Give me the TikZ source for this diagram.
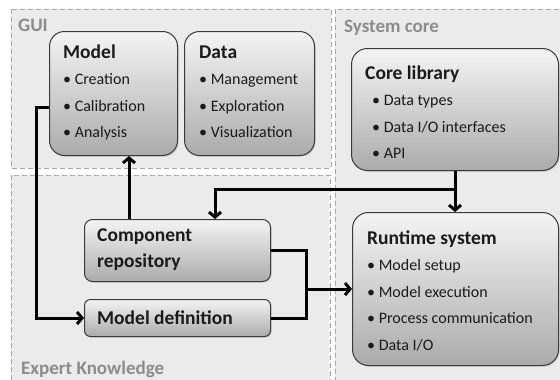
\documentclass[tikz,border=0pt]{standalone}
\usepackage{fontspec}
\setmainfont{Carlito}
\usetikzlibrary{arrows.meta,shadows,calc}

\definecolor{regionfill}{HTML}{EBEBEB}
\definecolor{regionline}{HTML}{A8A8A8}
\definecolor{labelgray}{HTML}{8C8C8C}
\definecolor{boxtop}{HTML}{F4F4F4}
\definecolor{boxbottom}{HTML}{ABABAB}
\definecolor{boxline}{HTML}{3A3A3A}
\definecolor{ink}{HTML}{1A1A1A}

\newcommand{\boxtitle}[1]{{\fontsize{19.5}{26.5}\selectfont\bfseries\strut #1}}
\newcommand{\itemline}[1]{\strut\textbullet\ #1}

\tikzset{
  region/.style={fill=regionfill, draw=regionline, line width=1pt,
    dash pattern=on 5pt off 3pt},
  regionlabel/.style={anchor=base west, inner sep=0pt, text=labelgray,
    font=\fontsize{19}{22}\selectfont\bfseries},
  panel/.style={anchor=north west, draw=boxline, line width=1pt,
    top color=boxtop, bottom color=boxbottom, rounded corners=#1,
    inner sep=0pt,
    drop shadow={opacity=0.3, shadow xshift=1.2pt, shadow yshift=-1.2pt}},
  paneltext/.style={anchor=north west, inner sep=0pt, align=left, text=ink,
    font=\fontsize{16}{26.5}\selectfont},
  conn/.style={draw=black, line width=3pt},
  arrowend/.style={-{Straight Barb[length=5pt,width=12pt]}},
}

\begin{document}
\begin{tikzpicture}[x=1pt,y=-1pt]
  \useasboundingbox (0,0) rectangle (560,380);
  \fill[white] (0,0) rectangle (560,380);
  \clip (0,0) rectangle (560,380);

  % dashed layer regions
  \draw[region] (11,9) rectangle (331,168);
  \draw[region] (11,175) rectangle (330,392);
  \draw[region] (335,9) rectangle (572,392);
  \node[regionlabel] (gui) at (18,31) {GUI};
  \node[regionlabel] (syscore) at (344,32) {System core};
  \node[regionlabel] (expert) at (21,374) {Expert Knowledge};

  % GUI modules
  \node[panel=15pt, minimum width=128pt, minimum height=124pt] (model) at (49,31) {};
  \node[paneltext] (modeltxt) at ([shift={(14,8.5)}]model.north west)
    {\boxtitle{Model}\\ \itemline{Creation}\\ \itemline{Calibration}\\ \itemline{Analysis}};
  \node[panel=15pt, minimum width=130pt, minimum height=124pt] (data) at (184,31) {};
  \node[paneltext] (datatxt) at ([shift={(15,8.5)}]data.north west)
    {\boxtitle{Data}\\ \itemline{Management}\\ \itemline{Exploration}\\ \itemline{Visualization}};

  % system core
  \node[panel=16pt, minimum width=207pt, minimum height=122pt] (core) at (351,48) {};
  \node[paneltext] (coretxt) at ([shift={(14,12.5)}]core.north west)
    {\boxtitle{Core library}\\ \hspace{7pt}\itemline{Data types}\\
     \hspace{7pt}\itemline{Data I/O interfaces}\\ \hspace{7pt}\itemline{API}};
  \node[panel=16pt, minimum width=206pt, minimum height=153pt] (runtime) at (352,212) {};
  \node[paneltext] (runtimetxt) at ([shift={(15,13.5)}]runtime.north west)
    {\boxtitle{Runtime system}\\ \itemline{Model setup}\\ \itemline{Model execution}\\
     \itemline{Process communication}\\ \itemline{Data I/O}};

  % expert knowledge
  \node[panel=8pt, minimum width=186pt, minimum height=62pt] (cr) at (84,219) {};
  \node[paneltext] (crtxt) at ([shift={(13,3.5)}]cr.north west)
    {\boxtitle{Component}\\ \boxtitle{repository}};
  \node[panel=6pt, minimum width=186pt, minimum height=37pt] (mdef) at (84,299) {};
  \node[paneltext] (mdeftxt) at ([shift={(13,6.5)}]mdef.north west)
    {\boxtitle{Model definition}};

  % connectors
  \draw[conn, arrowend] ([yshift=-14pt]model.west) -- ++(-13,0) |- (mdef.west);
  \coordinate (crup) at ([xshift=45pt]cr.north west);
  \draw[conn, arrowend] (crup) -- (crup |- model.south);
  \draw[conn, arrowend] (core.south) -- (core.south |- runtime.north);
  \coordinate (crdown) at ([xshift=131pt]cr.north west);
  \draw[conn, arrowend] ($(core.south)+(0,18)$) -| (crdown);
  \draw[conn] (cr.east) -- ++(35,0) coordinate (join) |- (mdef.east);
  \draw[conn, arrowend] (join |- runtime.west) -- (runtime.west);
\end{tikzpicture}
\end{document}
